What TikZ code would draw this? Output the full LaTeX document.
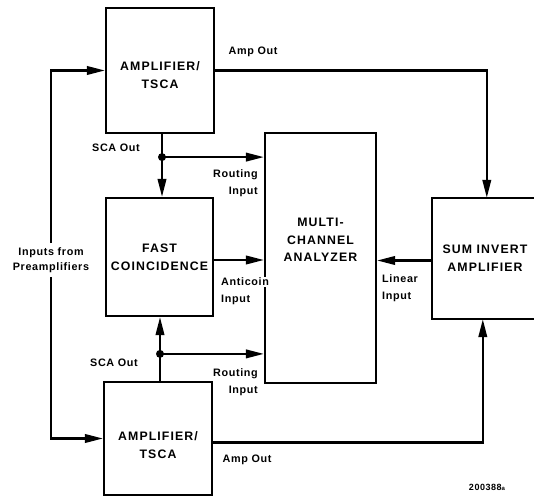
\documentclass[tikz,border=0pt]{standalone}
\usepackage{fontspec}
\usetikzlibrary{arrows.meta,calc}
\newfontfamily\bxfont[LetterSpace=9]{Liberation Sans}
\newfontfamily\lbfont[LetterSpace=6]{Liberation Sans}
\begin{document}
\begin{tikzpicture}[x=1pt,y=1pt,
  ln/.style={line width=2.2pt},
  box/.style={draw,ln,rectangle,inner sep=0pt},
  arr/.style={ln,-{Triangle[length=18pt,width=8.5pt]}},
  bt/.style={align=center,inner sep=0pt,font=\bxfont\bfseries\fontsize{12.3}{18}\selectfont},
  lb/.style={inner sep=0pt,font=\lbfont\bfseries\fontsize{10.8}{17}\selectfont},
  dot/.style={circle,fill,inner sep=0pt,minimum size=8pt}]
\useasboundingbox (0,0) rectangle (534,497);
% boxes
\node[box,minimum width=108,minimum height=125] (amp1) at (160,426.5) {};
\node[box,minimum width=107,minimum height=118] (fast) at (159.5,240) {};
\node[box,minimum width=108,minimum height=113] (amp2) at (158,58.5) {};
\node[box,minimum width=111,minimum height=250] (mca) at (320.5,239) {};
\node[inner sep=0pt,minimum width=204,minimum height=121] (sum) at (534,238.5) {};
\draw[ln] (sum.north) -- (sum.north west) -- (sum.south west) -- (sum.south);
% box texts
\node[bt] (t1) at (160,422) {AMPLIFIER/\\TSCA};
\node[bt] (t2) at (159.5,240) {FAST\\COINCIDENCE};
\node[bt] (t3) at (158,52) {AMPLIFIER/\\TSCA};
\node[bt,font=\bxfont\bfseries\fontsize{12.3}{17.5}\selectfont] (t4) at (320.5,257) {MULTI-\\CHANNEL\\ANALYZER};
\node[bt] (t5) at (485,239) {SUM INVERT\\AMPLIFIER};
% labels
\node[lb,align=center,font=\lbfont\bfseries\fontsize{10.8}{15.5}\selectfont,inner sep=4pt] (inl) at (51,237) {Inputs from\\Preamplifiers};
\node[lb] (ao1) at (253,445) {Amp Out};
\node[lb] (sc1) at (116,349) {SCA Out};
\node[lb,align=right,anchor=east] (ri1) at (258,313.5) {Routing\\Input};
\node[lb,anchor=west,fill=white,inner sep=1pt] (an) at (220,215) {Anticoin};
\node[lb,anchor=west] (an2) at (221,197) {Input};
\node[lb] (sc2) at (114,134) {SCA Out};
\node[lb,align=right,anchor=east] (ri2) at (258,115) {Routing\\Input};
\node[lb,align=left,anchor=west] (li) at (382,208.5) {Linear\\Input};
\node[lb] (ao2) at (247,37) {Amp Out};
\node[lb,font=\lbfont\bfseries\fontsize{9}{10}\selectfont] (id) at (487,10) {200388{\fontsize{6}{6}\selectfont a}};
% connectors
\draw[arr] (inl.north) |- (amp1.west);
\draw[arr] (inl.south) |- (amp2.west);
\draw[arr] (amp1.east) -| ($(sum.north west)+(55,0)$);
\draw[arr] ([yshift=-4pt]amp2.east) -| ($(sum.south west)+(51,0)$);
\coordinate (d1) at ($(amp1.south)+(2,-23)$);
\draw[arr] ([xshift=2pt]amp1.south) -- ([xshift=2pt]amp1.south |- fast.north);
\draw[arr] (d1) -- (d1 -| mca.west);
\node[dot] (dd1) at (d1) {};
\draw[arr] ([yshift=-3pt]fast.east) -- ([yshift=-3pt]fast.east -| mca.west);
\coordinate (d2) at ($(amp2.north)+(2,27)$);
\draw[arr] ([xshift=2pt]amp2.north) -- ([xshift=2pt]amp2.north |- fast.south);
\draw[arr] (d2) -- (d2 -| mca.west);
\node[dot] (dd2) at (d2) {};
\draw[arr] ([yshift=-2pt]sum.west) -- ([yshift=-2pt]sum.west -| mca.east);
\end{tikzpicture}
\end{document}
